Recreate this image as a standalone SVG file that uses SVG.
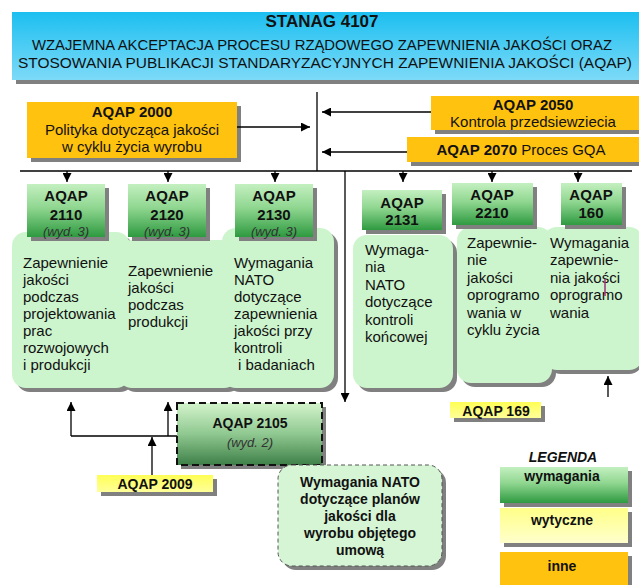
<svg xmlns="http://www.w3.org/2000/svg" width="639" height="585" viewBox="0 0 639 585">
<defs>
<linearGradient id="gBlue" x1="0" y1="0" x2="0" y2="1"><stop offset="0" stop-color="#1cbff0"/><stop offset="1" stop-color="#7ddaf8"/></linearGradient>
<linearGradient id="gGreen" x1="0" y1="0" x2="0" y2="1"><stop offset="0" stop-color="#c4f0c0"/><stop offset="0.45" stop-color="#8fd690"/><stop offset="1" stop-color="#2e9a40"/></linearGradient>
<linearGradient id="gDark" x1="0" y1="0" x2="0" y2="1"><stop offset="0" stop-color="#d4f4cc"/><stop offset="0.5" stop-color="#8fc890"/><stop offset="1" stop-color="#3e8048"/></linearGradient>
<linearGradient id="gYellow" x1="0" y1="0" x2="0" y2="1"><stop offset="0" stop-color="#ffff55"/><stop offset="1" stop-color="#ffff99"/></linearGradient>
<linearGradient id="gPale" x1="0" y1="0" x2="0" y2="1"><stop offset="0" stop-color="#ffff88"/><stop offset="1" stop-color="#ffffcc"/></linearGradient>
<marker id="ah" viewBox="0 0 10 10" refX="10" refY="5" markerWidth="10" markerHeight="9" markerUnits="userSpaceOnUse" orient="auto"><path d="M0,0 L10,5 L0,10 z" fill="#000"/></marker>
</defs>
<style>
text{font-family:"Liberation Sans",Arial,sans-serif;fill:#111}
.b{font-weight:bold}
.c{text-anchor:middle}
.it{font-style:italic;font-size:13px;fill:#333}
.t15{font-size:15px}
.t14{font-size:14px}
.sh{fill:#808080}
.orange{fill:#ffc20e}
.panel{fill:#cdf5cd}
.hdr{fill:url(#gGreen)}
.ln{stroke:#000;stroke-width:1.3;fill:none}
.arr{stroke:#000;stroke-width:1.3;fill:none;marker-end:url(#ah)}
</style>

<g id="stanag">
<rect x="16" y="16" width="627" height="68" class="sh"/>
<rect x="12" y="12" width="627" height="68" fill="url(#gBlue)"/>
<text x="322" y="27" class="b c" font-size="17">STANAG 4107</text>
<text x="32" y="50" font-size="15" textLength="580" lengthAdjust="spacingAndGlyphs">WZAJEMNA AKCEPTACJA PROCESU RZĄDOWEGO ZAPEWNIENIA JAKOŚCI ORAZ</text>
<text x="18" y="68" font-size="15" textLength="614" lengthAdjust="spacingAndGlyphs">STOSOWANIA PUBLIKACJI  STANDARYZACYJNYCH ZAPEWNIENIA JAKOŚCI (AQAP)</text>
</g>

<g id="aqap2000">
<rect x="31" y="106" width="210" height="56" class="sh"/>
<rect x="27" y="102" width="210" height="56" class="orange"/>
<text x="132" y="117" class="b c t15">AQAP 2000</text>
<text x="132" y="135" class="c t15">Polityka dotycząca jakości</text>
<text x="132" y="152" class="c t15">w cyklu życia wyrobu</text>
</g>

<g id="aqap2050">
<rect x="435" y="100" width="210" height="34" class="sh"/>
<rect x="431" y="96" width="210" height="34" class="orange"/>
<text x="533" y="110" class="b c t15">AQAP 2050</text>
<text x="533" y="127" class="c t15">Kontrola przedsiewziecia</text>
</g>

<g id="aqap2070">
<rect x="411" y="141" width="234" height="25" class="sh"/>
<rect x="407" y="137" width="234" height="25" class="orange"/>
<text x="521" y="155" class="c t15"><tspan class="b">AQAP 2070</tspan> Proces GQA</text>
</g>

<g id="connectors">
<line x1="237" y1="127" x2="310" y2="127" class="arr"/>
<line x1="317" y1="92" x2="317" y2="171" class="ln"/>
<line x1="431" y1="112" x2="322" y2="112" class="arr"/>
<line x1="407" y1="152" x2="322" y2="152" class="arr"/>
<line x1="20" y1="171" x2="632" y2="171" class="ln"/>
<line x1="67" y1="171" x2="67" y2="182" class="arr"/>
<line x1="168" y1="171" x2="168" y2="182" class="arr"/>
<line x1="275" y1="171" x2="275" y2="182" class="arr"/>
<line x1="403" y1="171" x2="403" y2="182" class="arr"/>
<line x1="492" y1="171" x2="492" y2="182" class="arr"/>
<line x1="578" y1="171" x2="578" y2="182" class="arr"/>
<line x1="345" y1="171" x2="345" y2="402" class="arr"/>
<line x1="608" y1="397" x2="608" y2="376" class="arr"/>
<line x1="71" y1="436" x2="177" y2="436" class="ln"/>
<line x1="71" y1="436" x2="71" y2="402" class="arr"/>
<line x1="168" y1="436" x2="168" y2="402" class="arr"/>
<line x1="152" y1="475" x2="152" y2="437" class="arr"/>
</g>

<g id="panels-left">
<rect x="16" y="236" width="118" height="156" rx="14" class="sh"/>
<rect x="122" y="244" width="120" height="148" rx="14" class="sh"/>
<rect x="226" y="232" width="112" height="160" rx="14" class="sh"/>
<rect x="12" y="232" width="118" height="156" rx="14" class="panel"/>
<rect x="118" y="240" width="120" height="148" rx="14" class="panel"/>
<rect x="222" y="228" width="112" height="160" rx="14" class="panel"/>
</g>

<g id="aqap2110">
<rect x="31" y="188" width="78" height="53" class="sh"/>
<rect x="27" y="184" width="78" height="53" class="hdr"/>
<text x="66" y="201" class="b c t15">AQAP</text>
<text x="66" y="220" class="b c t15">2110</text>
<text x="66" y="236" class="it c">(wyd. 3)</text>
<g class="t15"><text x="23" y="268">Zapewnienie</text><text x="23" y="285">jakości</text><text x="23" y="302">podczas</text><text x="23" y="319">projektowania</text><text x="23" y="336">prac</text><text x="23" y="353">rozwojowych</text><text x="23" y="370">i produkcji</text></g>
</g>

<g id="aqap2120">
<rect x="132" y="188" width="78" height="53" class="sh"/>
<rect x="128" y="184" width="78" height="53" class="hdr"/>
<text x="167" y="201" class="b c t15">AQAP</text>
<text x="167" y="220" class="b c t15">2120</text>
<text x="167" y="236" class="it c">(wyd. 3)</text>
<g class="t15"><text x="128" y="276">Zapewnienie</text><text x="128" y="293">jakości</text><text x="128" y="310">podczas</text><text x="128" y="327">produkcji</text></g>
</g>

<g id="aqap2130">
<rect x="239" y="188" width="78" height="53" class="sh"/>
<rect x="235" y="184" width="78" height="53" class="hdr"/>
<text x="274" y="201" class="b c t15">AQAP</text>
<text x="274" y="220" class="b c t15">2130</text>
<text x="274" y="236" class="it c">(wyd. 3)</text>
<g class="t15"><text x="234" y="268">Wymagania</text><text x="234" y="285">NATO</text><text x="234" y="302">dotyczące</text><text x="234" y="319">zapewnienia</text><text x="234" y="336">jakości przy</text><text x="234" y="353">kontroli</text><text x="238" y="370">i badaniach</text></g>
</g>

<g id="panels-right">
<rect x="357" y="239" width="100" height="153" rx="14" class="sh"/>
<rect x="461" y="231" width="95" height="156" rx="14" class="sh"/>
<rect x="547" y="231" width="96" height="143" rx="14" class="sh"/>
<rect x="353" y="235" width="100" height="153" rx="14" class="panel"/>
<rect x="457" y="227" width="95" height="156" rx="14" class="panel"/>
<rect x="543" y="227" width="100" height="143" rx="14" class="panel"/>
</g>

<g id="aqap2131">
<rect x="366" y="194" width="80" height="40" class="sh"/>
<rect x="362" y="190" width="80" height="40" class="hdr"/>
<text x="402" y="208" class="b c t15">AQAP</text>
<text x="402" y="225" class="b c t15">2131</text>
<g class="t15"><text x="365" y="255">Wymaga-</text><text x="365" y="272">nia</text><text x="365" y="290">NATO</text><text x="365" y="307">dotyczące</text><text x="365" y="325">kontroli</text><text x="365" y="342">końcowej</text></g>
</g>

<g id="aqap2210">
<rect x="456" y="187" width="81" height="42" class="sh"/>
<rect x="452" y="183" width="81" height="42" class="hdr"/>
<text x="492" y="200" class="b c t15">AQAP</text>
<text x="492" y="218" class="b c t15">2210</text>
<g class="t15"><text x="467" y="248">Zapewnie-</text><text x="467" y="265">nie</text><text x="467" y="283">jakości</text><text x="467" y="300">oprogramo</text><text x="467" y="318">wania w</text><text x="467" y="335">cyklu życia</text></g>
</g>

<g id="aqap160">
<rect x="565" y="187" width="61" height="42" class="sh"/>
<rect x="561" y="183" width="61" height="42" class="hdr"/>
<text x="591" y="200" class="b c t15">AQAP</text>
<text x="591" y="218" class="b c t15">160</text>
<g class="t15"><text x="550" y="248">Wymagania</text><text x="550" y="265">zapewnie-</text><text x="550" y="283">nia jakości</text><text x="550" y="300">oprogramo</text><text x="550" y="318">wania</text></g>
<line x1="605" y1="279" x2="605" y2="296" stroke="#a0307a" stroke-width="1.5"/>
</g>

<g id="aqap169">
<rect x="454" y="406" width="91" height="16" class="sh"/>
<rect x="450" y="402" width="91" height="16" fill="url(#gYellow)"/>
<text x="496" y="416" class="b c t14">AQAP 169</text>
</g>

<g id="aqap2105">
<rect x="181" y="407" width="145" height="62" class="sh"/>
<rect x="177" y="403" width="145" height="62" fill="url(#gDark)" stroke="#111" stroke-width="2" stroke-dasharray="7,4"/>
<text x="250" y="428" class="b c t14">AQAP 2105</text>
<text x="250" y="447" class="it c">(wyd. 2)</text>
</g>

<g id="aqap2009">
<rect x="101" y="479" width="116" height="17" class="sh"/>
<rect x="97" y="475" width="116" height="17" fill="url(#gYellow)"/>
<text x="155" y="489" class="b c t14">AQAP 2009</text>
</g>

<g id="plany">
<rect x="282" y="469" width="164" height="101" rx="14" class="sh"/>
<rect x="278" y="465" width="164" height="101" rx="14" fill="#d6f5d4" stroke="#555" stroke-width="1" stroke-dasharray="4,3"/>
<g class="b c t14"><text x="360" y="487">Wymagania NATO</text><text x="360" y="504">dotyczące planów</text><text x="360" y="521">jakości dla</text><text x="360" y="538">wyrobu objętego</text><text x="360" y="555">umową</text></g>
</g>

<g id="legenda">
<text x="563" y="462" class="b c t14" font-style="italic">LEGENDA</text>
<rect x="504" y="471" width="128" height="36" class="sh"/>
<rect x="500" y="467" width="128" height="36" fill="url(#gGreen)"/>
<text x="562" y="481" class="b c t14">wymagania</text>
<rect x="504" y="512" width="128" height="35" class="sh"/>
<rect x="500" y="508" width="128" height="35" fill="url(#gPale)"/>
<text x="562" y="525" class="b c t14">wytyczne</text>
<rect x="504" y="556" width="128" height="33" class="sh"/>
<rect x="500" y="552" width="128" height="33" class="orange"/>
<text x="562" y="571" class="b c t14">inne</text>
</g>
</svg>
